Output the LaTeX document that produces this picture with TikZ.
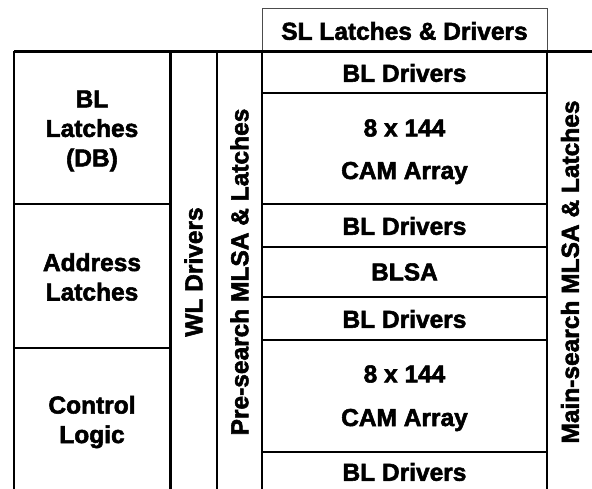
\documentclass[tikz,border=0pt]{standalone}
\usepackage{fontspec}
\setmainfont{Liberation Sans}[BoldFeatures={FakeBold=2.2}]
\begin{document}
\begin{tikzpicture}[x=1pt,y=-1pt,
  thickline/.style={line width=2.3pt},
  thinline/.style={line width=1pt,draw=black!70},
  lbl/.style={font=\bfseries\fontsize{24.5}{29.5}\selectfont,inner sep=0pt,align=center},
]
\useasboundingbox (0,0) rectangle (592,489);
% SL box (thin)
\draw[thinline] (262,51.5) -- (262,9) -- (547,9) -- (547,51.5);
% top line
\draw[thickline] (14,51.5) -- (592,51.5);
% vertical lines
\foreach \x in {14,170.5,216.7,262,547}
  \draw[thickline] (\x,51.5) -- (\x,489);
% left column separators
\foreach \y in {204,348}
  \draw[thickline] (14,\y) -- (170.5,\y);
% right column separators
\foreach \y in {93,204,247,297,340,451.7}
  \draw[thickline] (262,\y) -- (547,\y);
% labels
\node[lbl] (sl) at (404.5,31) {SL Latches \& Drivers};
\node[lbl] (bld1) at (404.5,73) {BL Drivers};
\node[lbl] (n1) at (404.5,128) {8 x 144};
\node[lbl] (cam1) at (404.5,173) {CAM Array};
\node[lbl] (bld2) at (404.5,226) {BL Drivers};
\node[lbl] (blsa) at (404.5,272) {BLSA};
\node[lbl] (bld3) at (404.5,319) {BL Drivers};
\node[lbl] (n2) at (404.5,374) {8 x 144};
\node[lbl] (cam2) at (404.5,420) {CAM Array};
\node[lbl] (bld4) at (404.5,472) {BL Drivers};
\node[lbl] (bll) at (92,131) {BL\\Latches\\(DB)};
\node[lbl] (addr) at (92,277) {Address\\Latches};
\node[lbl] (ctrl) at (92,422) {Control\\Logic};
\node[lbl,rotate=90] (wl) at (193.5,272) {WL Drivers};
\node[lbl,rotate=90] (pre) at (239.5,272) {Pre-search MLSA \& Latches};
\node[lbl,rotate=90] (main) at (570,272) {Main-search MLSA \& Latches};
\end{tikzpicture}
\end{document}
